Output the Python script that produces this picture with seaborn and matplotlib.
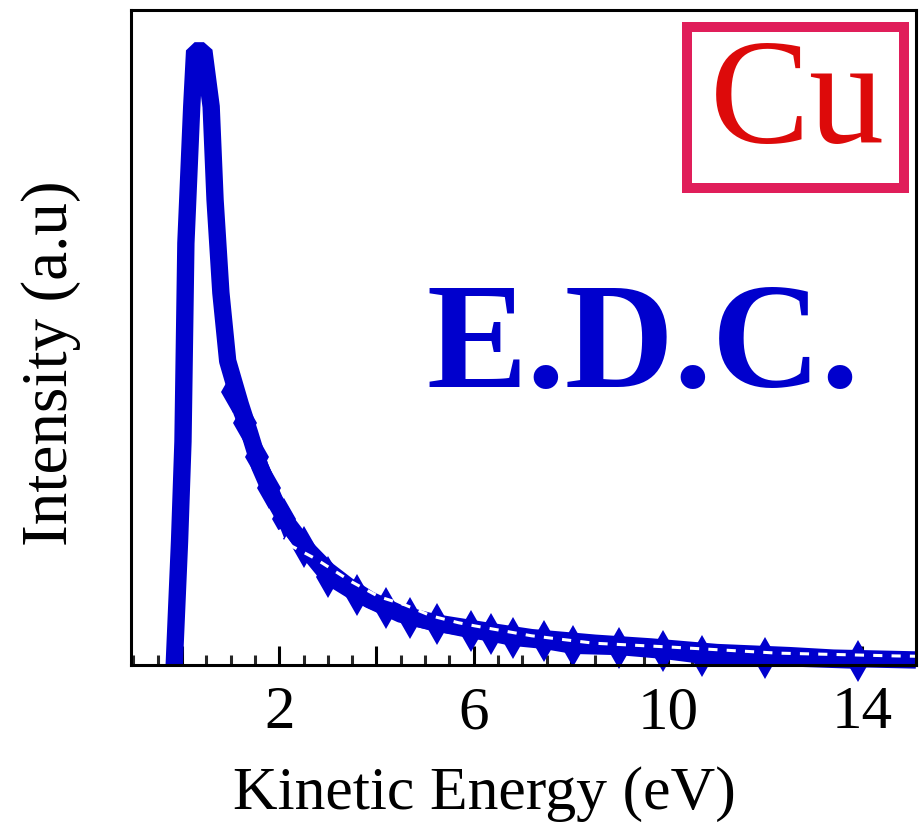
import matplotlib
matplotlib.use("Agg")
import matplotlib.pyplot as plt
import seaborn as sns
import pandas as pd
from matplotlib.ticker import MultipleLocator
from matplotlib.patches import Rectangle

# ---- data ----
energy_main = [-0.16, -0.05, 0.02, 0.08, 0.2, 0.26, 0.45, 0.6, 0.68, 0.8, 0.94, 1.2, 1.39,
               1.6, 1.9, 2.2, 2.59, 3.0, 3.4, 3.86, 4.5, 5.2, 6.16, 7.19, 8.5, 9.65,
               11.0, 12.5, 13.4, 15.1]
intensity_main = [0, 20, 36, 68, 90, 99, 99, 90, 75, 60, 49, 42, 37.4,
                  32, 26.6, 22.5, 18.5, 15.2, 12.8, 10.5, 8.2, 6.8, 5.6, 4.4, 3.5, 2.9,
                  2.0, 1.5, 1.1, 0.8]

energy_diamond = [1.05, 1.3, 1.55, 1.8, 2.1, 2.5, 3.0, 3.6, 4.2, 4.7, 5.25, 5.95, 6.35,
                  6.8, 7.45, 8.05, 9.0, 9.9, 10.7, 12.0, 13.9]
intensity_diamond = [44, 39, 33.5, 28.5, 23.5, 19, 14.2, 11.3, 9.2, 7.6, 6.6, 5.5, 5.0,
                     4.3, 3.8, 3.0, 2.8, 2.2, 1.4, 1.1, 0.6]

energy_fit = [2.0, 2.1, 2.73, 3.49, 4.05, 4.58, 5.13, 5.69, 6.02, 7.19, 8.48, 10.0,
              12.26, 14.7, 15.1]
intensity_fit = [21.8, 19.8, 17.2, 13.4, 11.0, 9.7, 7.9, 6.8, 6.3, 4.7, 3.5, 2.9,
                 1.9, 1.45, 1.4]

tick_values = [0, 2, 4, 6, 8, 10, 12, 14]
tick_labels = ["", "2", "", "6", "", "10", "", "14"]

df_main = pd.DataFrame({"E": energy_main, "I": intensity_main})
df_dia = pd.DataFrame({"E": energy_diamond, "I": intensity_diamond})
df_fit = pd.DataFrame({"E": energy_fit, "I": intensity_fit})

sns.set_theme(style="white")
plt.rcParams["font.family"] = ["Liberation Serif", "DejaVu Serif"]

blue = "#0000CD"
fig = plt.figure(figsize=(9.19, 8.26), dpi=100)
ax = fig.add_axes([0.1425, 0.195, 0.8542, 0.793])

sns.lineplot(data=df_main, x="E", y="I", ax=ax, color=blue, lw=12.5,
             estimator=None, sort=False, clip_on=False, solid_joinstyle="bevel",
             solid_capstyle="butt")
sns.lineplot(data=df_dia, x="E", y="I", ax=ax, color=blue, lw=11,
             marker="d", markersize=21, markeredgewidth=0, estimator=None,
             sort=False, clip_on=False)
sns.lineplot(data=df_fit, x="E", y="I", ax=ax, color="white", lw=2.2,
             dashes=False, estimator=None, sort=False, clip_on=True)
ax.lines[-1].set_linestyle((0, (3, 3)))

ax.set_xlim(-1.05, 15.1)
ax.set_ylim(0, 105.6)
ax.set_xticks(tick_values)
ax.set_xticklabels(tick_labels)
ax.xaxis.set_minor_locator(MultipleLocator(0.5))
ax.set_yticks([])
ax.tick_params(axis="x", which="major", direction="in", length=14, width=2.2,
               labelsize=44, pad=15, bottom=True, top=False, colors="black")
ax.tick_params(axis="x", which="minor", direction="in", length=7, width=2.2,
               bottom=True, top=False)
for s in ax.spines.values():
    s.set_color("black")
    s.set_linewidth(2.2)

ax.set_xlabel("Kinetic Energy (eV)", fontsize=44.5, color="black")
ax.xaxis.set_label_coords(0.45, -0.155)
ax.xaxis.label.set_va("top")
ax.set_ylabel("Intensity (a.u)", fontsize=47, labelpad=36, color="black")
ax.yaxis.label.set_y(0.46)

ax.text(0.6515, 0.48, "E.D.C.", transform=ax.transAxes, ha="center", va="center",
        fontsize=109, fontweight="bold", color=blue)

ax.add_patch(Rectangle((0.708, 0.728), 0.277, 0.246, transform=ax.transAxes,
                       fill=False, edgecolor="#E01E5A", lw=7.2, clip_on=False))
ax.text(0.8485, 0.852, "Cu", transform=ax.transAxes, ha="center", va="center",
        fontsize=108, color="#DD0A0A")

if ax.get_legend() is not None:
    ax.get_legend().remove()

fig.savefig("out.png", dpi=100)
